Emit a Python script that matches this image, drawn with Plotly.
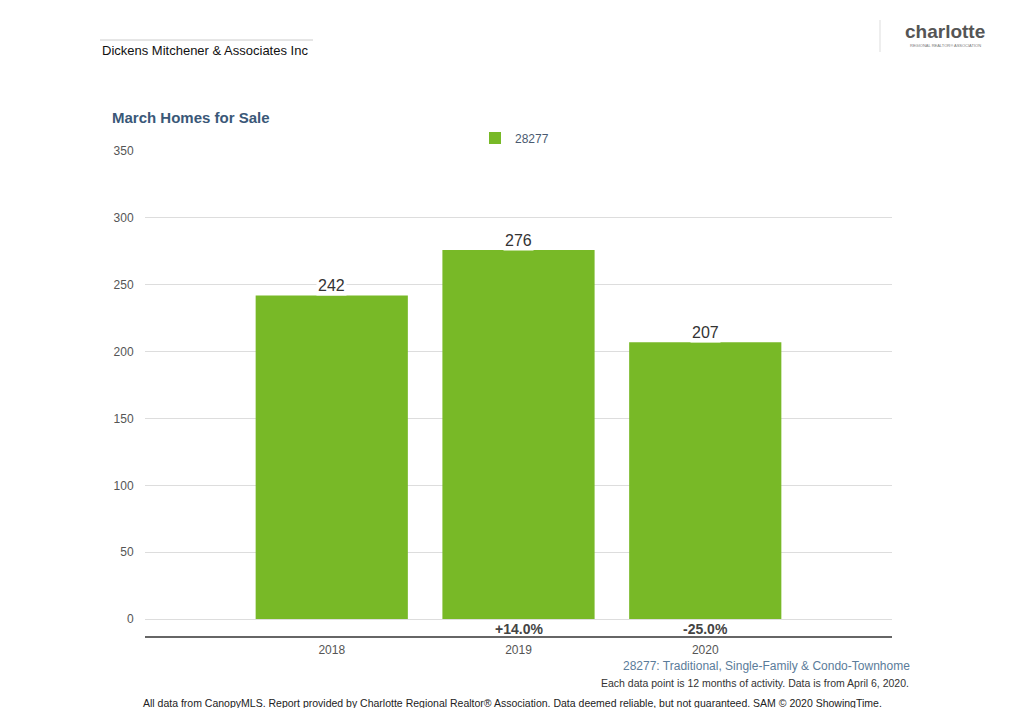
import plotly.graph_objects as go

years = ['2018', '2019', '2020']
homes_for_sale = [242, 276, 207]
series_name = '28277'

# year over year change, shown under each bar after the first
pct_change = [''] + ['{:+.1f}%'.format((homes_for_sale[i] / homes_for_sale[i-1] - 1) * 100)
                     for i in range(1, len(homes_for_sale))]

bar_color = '#78b927'

# page is drawn with an 8px body margin, so shift everything by that
OFF = 8
W, H = 1024 - OFF * 2, 716 - OFF * 2
# plot area in reference pixels (for placing the page texts)
L, R, T, B = 145, 892, 151, 636
def px(x):
    return (x - L) / (R - L)
def py(y):
    return (B - y) / (B - T)

fig = go.Figure()
fig.add_trace(go.Bar(x=years, y=homes_for_sale, name=series_name,
                     marker=dict(color=bar_color, line=dict(width=0)),
                     width=0.815, hoverinfo='x+y'))

# value labels on top of bars (white box breaks the gridlines like the original)
for i, v in enumerate(homes_for_sale):
    fig.add_annotation(x=i, y=v, text=str(v), showarrow=False, yanchor='bottom', yshift=-1,
                       bgcolor='white', font=dict(size=16, color='#333333', family='Arial'))

# percent change between zero line and axis line
for i, p in enumerate(pct_change):
    if p:
        fig.add_annotation(x=i, y=-7.5, text='<b>' + p + '</b>', showarrow=False,
                           font=dict(size=14, color='#444444', family='Arial'))

page_texts = [
    # text, x px, y px, anchor, size, color
    ('Dickens Mitchener & Associates Inc', 100, 50, 'left', 13, '#111111'),
    ('28277: Traditional, Single-Family & Condo-Townhome', 912, 666, 'right', 12, '#5b7c9a'),
    ('Each data point is 12 months of activity. Data is from April 6, 2020.', 911, 683, 'right', 10.5, '#333333'),
    ('All data from CanopyMLS. Report provided by Charlotte Regional Realtor\u00ae Association. '
     'Data deemed reliable, but not guaranteed. SAM \u00a9 2020 ShowingTime.', 512, 703, 'center', 10.5, '#222222'),
    ('<b>charlotte</b>', 945, 32, 'center', 19, '#555555'),
    ('REGIONAL REALTOR\u00ae ASSOCIATION', 945, 45, 'center', 4, '#777777'),
]
for t, x, y, anc, size, col in page_texts:
    fig.add_annotation(xref='paper', yref='paper', x=px(x), y=py(y), text=t, showarrow=False,
                       xanchor=anc, yanchor='middle', font=dict(size=size, color=col, family='Arial'))

# thin rule above the company name and divider next to logo
fig.add_shape(type='line', xref='paper', yref='paper', x0=px(100), x1=px(313), y0=py(40), y1=py(40),
              line=dict(color='#cccccc', width=1))
fig.add_shape(type='line', xref='paper', yref='paper', x0=px(880), x1=px(880), y0=py(20), y1=py(52),
              line=dict(color='#dddddd', width=1))

fig.update_layout(
    width=W, height=H,
    margin=dict(l=L - OFF, r=W - (R - OFF), t=T - OFF, b=H - (B - OFF)),
    paper_bgcolor='white', plot_bgcolor='white',
    font=dict(family='Arial', color='#555555'),
    title=dict(text='<b>March Homes for Sale</b>', x=(112 - OFF) / W, xanchor='left',
               y=1 - (118 - OFF) / H, yanchor='middle', font=dict(size=15, color='#3a5878')),
    showlegend=True,
    legend=dict(orientation='h', x=px(475), xanchor='left', y=py(138), yanchor='middle',
                font=dict(size=12, color='#4a5a70'), itemwidth=30),
    xaxis=dict(type='category', range=[-1, 3], showgrid=False, showline=True,
               linecolor='#666666', linewidth=2, ticks='outside', ticklen=2,
               tickcolor='rgba(0,0,0,0)', tickfont=dict(size=12, color='#555555'), fixedrange=True),
    yaxis=dict(range=[-12.7, 350], dtick=50, tick0=0, showgrid=True, gridcolor='#dddddd',
               zeroline=False, showline=False, ticks='outside', ticklen=8,
               tickcolor='rgba(0,0,0,0)', tickfont=dict(size=12, color='#555555'), fixedrange=True),
)

fig.write_html('out.html')
